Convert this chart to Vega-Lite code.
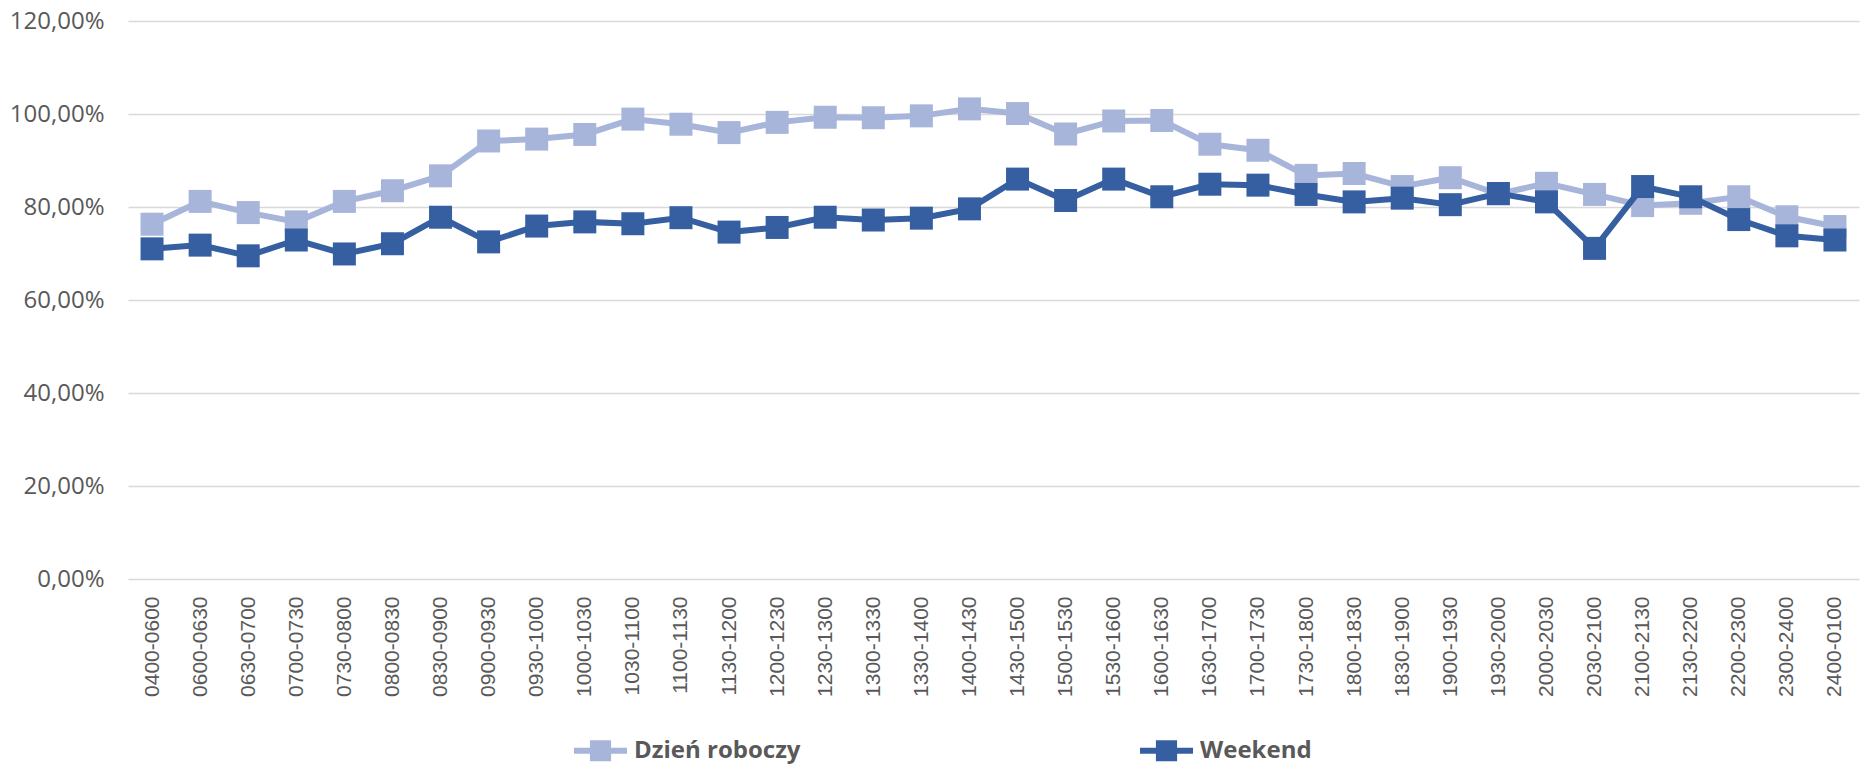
{
  "$schema": "https://vega.github.io/schema/vega-lite/v6.json",
  "width": 1731,
  "height": 558,
  "autosize": {"type": "none"},
  "padding": {"left": 128, "top": 21, "right": 5, "bottom": 185},
  "background": "white",
  "datasets": {
    "rows": [
      {"t":"0400-0600","s":"Dzień roboczy","v":76.3},
      {"t":"0600-0630","s":"Dzień roboczy","v":81.2},
      {"t":"0630-0700","s":"Dzień roboczy","v":78.8},
      {"t":"0700-0730","s":"Dzień roboczy","v":76.8},
      {"t":"0730-0800","s":"Dzień roboczy","v":81.2},
      {"t":"0800-0830","s":"Dzień roboczy","v":83.5},
      {"t":"0830-0900","s":"Dzień roboczy","v":86.7},
      {"t":"0900-0930","s":"Dzień roboczy","v":94.2},
      {"t":"0930-1000","s":"Dzień roboczy","v":94.6},
      {"t":"1000-1030","s":"Dzień roboczy","v":95.6},
      {"t":"1030-1100","s":"Dzień roboczy","v":98.9},
      {"t":"1100-1130","s":"Dzień roboczy","v":97.8},
      {"t":"1130-1200","s":"Dzień roboczy","v":96.0},
      {"t":"1200-1230","s":"Dzień roboczy","v":98.2},
      {"t":"1230-1300","s":"Dzień roboczy","v":99.3},
      {"t":"1300-1330","s":"Dzień roboczy","v":99.2},
      {"t":"1330-1400","s":"Dzień roboczy","v":99.6},
      {"t":"1400-1430","s":"Dzień roboczy","v":101.1},
      {"t":"1430-1500","s":"Dzień roboczy","v":100.1},
      {"t":"1500-1530","s":"Dzień roboczy","v":95.7},
      {"t":"1530-1600","s":"Dzień roboczy","v":98.5},
      {"t":"1600-1630","s":"Dzień roboczy","v":98.6},
      {"t":"1630-1700","s":"Dzień roboczy","v":93.5},
      {"t":"1700-1730","s":"Dzień roboczy","v":92.2},
      {"t":"1730-1800","s":"Dzień roboczy","v":86.8},
      {"t":"1800-1830","s":"Dzień roboczy","v":87.2},
      {"t":"1830-1900","s":"Dzień roboczy","v":84.4},
      {"t":"1900-1930","s":"Dzień roboczy","v":86.3},
      {"t":"1930-2000","s":"Dzień roboczy","v":82.8},
      {"t":"2000-2030","s":"Dzień roboczy","v":85.1},
      {"t":"2030-2100","s":"Dzień roboczy","v":82.7},
      {"t":"2100-2130","s":"Dzień roboczy","v":80.3},
      {"t":"2130-2200","s":"Dzień roboczy","v":80.8},
      {"t":"2200-2300","s":"Dzień roboczy","v":82.2},
      {"t":"2300-2400","s":"Dzień roboczy","v":77.9},
      {"t":"2400-0100","s":"Dzień roboczy","v":75.8},
      {"t":"0400-0600","s":"Weekend","v":71.0},
      {"t":"0600-0630","s":"Weekend","v":71.8},
      {"t":"0630-0700","s":"Weekend","v":69.5},
      {"t":"0700-0730","s":"Weekend","v":72.9},
      {"t":"0730-0800","s":"Weekend","v":69.9},
      {"t":"0800-0830","s":"Weekend","v":72.1},
      {"t":"0830-0900","s":"Weekend","v":77.8},
      {"t":"0900-0930","s":"Weekend","v":72.5},
      {"t":"0930-1000","s":"Weekend","v":75.9},
      {"t":"1000-1030","s":"Weekend","v":76.8},
      {"t":"1030-1100","s":"Weekend","v":76.4},
      {"t":"1100-1130","s":"Weekend","v":77.7},
      {"t":"1130-1200","s":"Weekend","v":74.6},
      {"t":"1200-1230","s":"Weekend","v":75.6},
      {"t":"1230-1300","s":"Weekend","v":77.8},
      {"t":"1300-1330","s":"Weekend","v":77.2},
      {"t":"1330-1400","s":"Weekend","v":77.6},
      {"t":"1400-1430","s":"Weekend","v":79.6},
      {"t":"1430-1500","s":"Weekend","v":86.0},
      {"t":"1500-1530","s":"Weekend","v":81.4},
      {"t":"1530-1600","s":"Weekend","v":86.0},
      {"t":"1600-1630","s":"Weekend","v":82.2},
      {"t":"1630-1700","s":"Weekend","v":84.9},
      {"t":"1700-1730","s":"Weekend","v":84.7},
      {"t":"1730-1800","s":"Weekend","v":82.7},
      {"t":"1800-1830","s":"Weekend","v":81.1},
      {"t":"1830-1900","s":"Weekend","v":81.9},
      {"t":"1900-1930","s":"Weekend","v":80.5},
      {"t":"1930-2000","s":"Weekend","v":82.9},
      {"t":"2000-2030","s":"Weekend","v":81.1},
      {"t":"2030-2100","s":"Weekend","v":71.1},
      {"t":"2100-2130","s":"Weekend","v":84.4},
      {"t":"2130-2200","s":"Weekend","v":82.2},
      {"t":"2200-2300","s":"Weekend","v":77.3},
      {"t":"2300-2400","s":"Weekend","v":73.8},
      {"t":"2400-0100","s":"Weekend","v":72.9}
    ]
  },
  "data": {"name": "rows"},
  "config": {
    "view": {"stroke": null},
    "font": "Open Sans"
  },
  "encoding": {
    "x": {
      "field": "t", "type": "nominal", "sort": null,
      "scale": {"type": "point", "padding": 0.5},
      "axis": {
        "title": null, "labelAngle": -90, "labelFont": "Liberation Sans", "labelFontSize": 21,
        "labelColor": "#595959", "ticks": false, "domain": false, "grid": false,
        "labelPadding": 17, "labelOverlap": false
      }
    },
    "y": {
      "field": "v", "type": "quantitative",
      "scale": {"domain": [0, 120], "nice": false, "zero": true},
      "axis": {
        "title": null, "values": [0, 20, 40, 60, 80, 100, 120],
        "labelExpr": "replace(format(datum.value, '.2f'), '.', ',') + '%'",
        "labelFont": "Open Sans", "labelFontSize": 24, "labelColor": "#595959",
        "labelPadding": 24, "ticks": false, "domain": false,
        "gridColor": "#D9D9D9", "gridWidth": 1.4
      }
    },
    "color": {
      "field": "s", "type": "nominal",
      "scale": {"domain": ["Dzień roboczy", "Weekend"], "range": ["#A8B5DB", "#365FA2"]},
      "legend": {
        "title": null, "orient": "none", "direction": "horizontal",
        "legendX": 446, "legendY": 703,
        "symbolType": "M-1,-0.115H1V0.115H-1Z M-0.4,-0.4H0.4V0.4H-0.4Z",
        "symbolSize": 2809, "symbolStrokeWidth": 0,
        "labelFont": "Open Sans", "labelFontSize": 24, "labelFontWeight": "bold",
        "labelColor": "#595959", "labelOffset": 7, "columnPadding": 339, "labelLimit": 400,
        "encode": {
          "symbols": {"update": {
            "fill": {"signal": "scale('color', datum.value)"},
            "stroke": {"value": "transparent"},
            "opacity": {"value": 1}
          }}
        }
      }
    }
  },
  "layer": [
    {
      "transform": [{"filter": "datum.s === 'Dzień roboczy'"}],
      "mark": {"type": "line", "strokeWidth": 6, "point": {"shape": "square", "size": 529, "filled": true, "opacity": 1}}
    },
    {
      "transform": [{"filter": "datum.s === 'Weekend'"}],
      "mark": {"type": "line", "strokeWidth": 6, "point": {"shape": "square", "size": 529, "filled": true, "opacity": 1}}
    }
  ]
}
